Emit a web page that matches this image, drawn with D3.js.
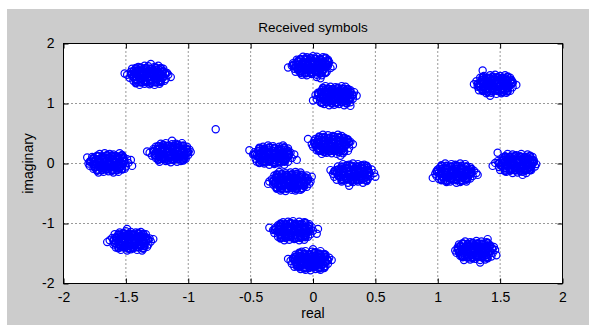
<!DOCTYPE html>
<html>
<head>
<meta charset="utf-8">
<script src="https://cdnjs.cloudflare.com/ajax/libs/d3/7.8.5/d3.min.js"></script>
<style>
  html, body { margin: 0; padding: 0; background: #fff; }
  svg { display: block; font-family: 'Liberation Sans', Arial, sans-serif; }
</style>
</head>
<body>
<div id="display"></div>
<script>
const w = 589;
const h = 325;

// axis ticks
const xTicks = [-2, -1.5, -1, -0.5, 0, 0.5, 1, 1.5, 2];
const xTickLabels = ['-2', '-1.5', '-1', '-0.5', '0', '0.5', '1', '1.5', '2'];
const yTicks = [-2, -1, 0, 1, 2];
const yTickLabels = ['-2', '-1', '0', '1', '2'];

// cluster centres (real, imaginary)
const centers = [
    [-1.32, 1.47], [-0.01, 1.63], [0.18, 1.13], [1.46, 1.32],
    [-1.64, 0.01], [-1.14, 0.18], [-0.32, 0.14], [0.15, 0.32],
    [0.32, -0.16], [-0.18, -0.30], [-0.16, -1.12], [-0.02, -1.62],
    [-1.46, -1.29], [1.14, -0.16], [1.30, -1.45], [1.63, 0.00]
];

// received samples around each centre, offsets in 1/100 (dx, dy, dx, dy, ...)
// outer ring of each cloud
const clusterA = [-7,-16,-3,-14,1,-15,5,-16,9,-14,-12,-9,-8,-11,-3,-10,1,-9,4,-11,9,-10,13,-9,-15,-4,-10,-6,-6,-5,-1,-4,2,-6,7,-5,10,-4,14,-6,-17,1,-12,-1,-7,0,-4,2,1,-1,4,1,9,0,12,-2,16,1,-14,6,-11,4,-6,5,-2,6,3,4,6,6,11,5,15,4,-13,11,-8,9,-4,10,1,11,5,9,8,10,12,11,-8,14,-3,16,0,15,5,14,8,16,-19,3,18,-3,2,19];
const clusterB = [-8,-15,-4,-16,0,-14,4,-15,8,-16,-13,-10,-9,-9,-4,-11,0,-10,4,-9,8,-11,12,-10,-14,-5,-11,-4,-6,-6,-2,-5,3,-4,6,-6,10,-5,15,-4,-16,0,-13,1,-8,-1,-3,0,0,2,5,-1,8,1,13,0,17,-1,-15,4,-10,6,-7,5,-3,4,2,6,6,5,11,4,14,6,-12,10,-9,11,-5,9,0,10,3,11,8,9,13,10,-7,15,-4,14,1,16,4,15,9,14,7,-21,4,-19,-19,-3];
const clusterC = [-9,-14,-5,-16,-1,-15,3,-14,7,-16,-12,-11,-7,-10,-3,-9,1,-11,5,-10,9,-9,12,-11,-15,-6,-10,-5,-7,-4,-2,-6,2,-5,6,-4,11,-6,14,-5,-16,1,-11,0,-8,2,-4,-1,1,0,4,2,9,-1,12,1,17,0,-14,5,-11,6,-6,4,-1,5,2,6,7,4,10,5,15,6,-11,9,-8,10,-3,11,0,9,4,10,9,11,12,9,-8,16,-4,15,0,14,5,16,8,15,-18,-8,12,-17];
const clusterD = [-7,-15,-3,-14,1,-16,5,-15,9,-14,-13,-10,-8,-9,-4,-11,0,-10,5,-9,8,-10,12,-11,-14,-4,-10,-5,-7,-6,-3,-4,2,-5,6,-6,9,-4,14,-5,-17,0,-12,1,-8,-1,-4,0,1,1,4,-2,8,0,13,1,17,-1,-15,5,-10,4,-6,6,-2,5,2,4,7,6,10,5,14,4,-12,11,-9,9,-4,10,0,11,4,9,8,10,12,11,-9,14,-4,15,0,16,4,14,8,15,-10,23,-4,-19];
const clusterE = [-8,-16,-4,-15,0,-14,4,-16,8,-15,-12,-10,-9,-11,-4,-9,0,-10,3,-11,8,-9,13,-10,-15,-5,-11,-6,-6,-4,-2,-5,2,-6,7,-4,10,-5,14,-6,-16,-1,-12,1,-7,0,-4,-2,1,1,5,0,8,-1,12,2,16,0,-14,4,-10,6,-7,5,-2,4,3,6,6,5,11,4,15,6,-13,10,-8,11,-3,9,1,10,5,11,9,9,12,10,-7,15,-3,16,1,15,4,14,9,16,19,-5,-17,9,18,5];
const clusterF = [-9,-15,-4,-14,0,-16,5,-15,8,-14,-12,-9,-8,-10,-4,-11,1,-10,4,-9,9,-11,12,-10,-15,-5,-10,-4,-6,-6,-1,-5,3,-4,6,-6,11,-5,14,-4,-17,0,-12,-1,-8,1,-3,0,0,-2,5,1,9,0,13,-1,16,1,-14,6,-11,5,-6,4,-2,6,2,5,7,4,10,6,15,5,-12,10,-7,9,-4,11,0,10,5,9,8,11,13,10,-8,15,-4,16,1,14,4,15,9,16,-19,2,1,20];
const clusterG = [-7,-14,-3,-16,1,-15,5,-14,9,-16,-13,-11,-8,-10,-3,-9,1,-11,5,-10,8,-9,12,-11,-14,-6,-11,-5,-7,-4,-2,-6,2,-5,6,-4,10,-6,15,-5,-16,1,-13,0,-8,-1,-4,1,1,0,4,-1,8,2,12,0,17,1,-15,5,-10,4,-6,6,-3,5,2,4,6,6,11,5,14,4,-11,11,-8,10,-4,9,1,11,4,10,9,9,12,11,-8,14,-4,16,0,15,5,14,8,16,-19,8,19,-8];
const clusterH = [-8,-16,-4,-14,0,-15,4,-16,9,-15,-12,-10,-9,-9,-4,-10,0,-11,4,-9,8,-10,13,-11,-15,-4,-10,-6,-6,-5,-2,-4,3,-6,6,-5,10,-4,14,-6,-16,0,-12,2,-7,-1,-3,0,0,1,5,-1,9,1,12,0,17,0,-14,6,-11,4,-7,5,-2,6,2,4,7,5,11,6,15,4,-13,9,-8,11,-3,10,1,9,5,11,9,10,12,9,-7,16,-3,15,1,14,5,16,8,14,-19,9,7,-19];
const clusterI = [-9,-14,-4,-16,0,-15,4,-14,8,-16,-13,-11,-8,-10,-4,-9,1,-10,5,-11,8,-9,12,-10,-15,-6,-11,-5,-6,-4,-1,-6,2,-5,7,-4,10,-6,14,-5,-16,-1,-13,1,-8,0,-4,-1,1,2,4,0,9,-2,13,1,17,0,-14,5,-10,6,-7,4,-3,5,2,6,6,4,11,5,15,6,-12,11,-9,10,-4,9,0,10,4,11,9,10,12,9,-8,15,-3,14,0,16,4,15,9,14,-18,5,-3,-21,18,-6];
const clusterJ = [-8,-15,-4,-16,1,-14,4,-15,8,-14,-12,-9,-8,-11,-3,-10,0,-9,5,-10,9,-11,13,-9,-14,-5,-10,-4,-7,-6,-2,-5,3,-4,6,-6,11,-5,15,-4,-17,0,-12,-1,-7,1,-3,-1,0,0,5,2,8,0,12,-1,16,0,-15,4,-11,5,-6,6,-2,4,2,5,7,6,10,4,14,5,-13,10,-9,9,-4,11,0,10,4,9,8,11,13,10,-9,16,-4,14,0,15,4,16,8,15,-18,-4,17,8];
const clusterK = [-7,-16,-3,-15,1,-14,5,-16,9,-15,-12,-10,-9,-11,-4,-9,0,-10,4,-11,9,-9,12,-10,-15,-4,-10,-5,-6,-6,-1,-4,2,-6,7,-5,10,-4,14,-6,-16,1,-13,-1,-8,0,-4,2,1,-1,4,0,9,1,13,-1,16,0,-14,5,-11,6,-7,4,-2,5,3,6,6,4,10,5,15,6,-12,9,-8,10,-3,11,1,10,5,9,8,10,13,11,-8,14,-4,15,0,16,5,15,9,14,20,3,19,-5,-19,5];
const clusterL = [-8,-14,-4,-15,0,-16,4,-14,8,-15,-13,-10,-8,-9,-4,-11,1,-10,4,-9,8,-11,12,-9,-15,-5,-11,-6,-6,-4,-2,-6,3,-5,6,-4,10,-6,14,-5,-16,0,-12,1,-8,-1,-3,0,0,-1,5,1,9,0,12,-2,17,1,-14,4,-10,5,-7,6,-3,4,2,5,6,6,11,4,15,5,-12,10,-8,11,-4,9,0,10,5,11,8,9,12,10,-7,15,-4,16,1,15,4,14,8,16,-18,3,2,19];
const clusterM = [-8,-15,-3,-16,0,-14,5,-15,9,-16,-12,-11,-8,-9,-4,-10,1,-11,5,-10,8,-9,13,-10,-14,-6,-10,-5,-7,-4,-2,-5,2,-6,7,-5,11,-4,14,-6,-17,1,-12,0,-7,-1,-4,1,1,0,4,-1,8,1,12,0,16,-1,-15,5,-11,4,-6,5,-2,6,3,4,6,5,10,6,15,4,-13,11,-8,10,-3,9,0,11,4,10,9,9,12,11,-9,14,-4,16,0,15,4,14,8,15,-3,20,18,3,-19,-2];
const clusterN = [-7,-15,-4,-14,1,-16,4,-15,9,-14,-13,-10,-9,-11,-4,-9,0,-10,5,-11,8,-10,12,-9,-15,-5,-10,-6,-6,-5,-2,-4,2,-5,7,-6,10,-4,14,-5,-16,-1,-13,1,-8,0,-3,-1,1,1,4,0,9,-1,13,2,17,0,-14,6,-11,4,-7,5,-2,6,3,4,6,6,11,5,15,4,-12,10,-8,9,-4,11,1,10,4,9,9,11,12,10,-8,16,-3,15,0,14,4,16,8,15,-18,-8,18,-3];
const clusterO = [-9,-16,-4,-15,0,-14,4,-16,8,-15,-12,-9,-8,-10,-3,-11,1,-9,4,-10,9,-11,13,-10,-15,-4,-11,-5,-6,-6,-1,-4,3,-5,6,-6,11,-5,14,-4,-16,0,-12,-2,-7,1,-4,0,0,-1,5,1,8,0,12,-1,16,1,-14,5,-10,6,-7,4,-2,5,2,6,7,4,10,5,15,6,-13,10,-9,11,-4,10,0,9,5,11,8,10,12,9,-8,15,-4,14,1,16,5,15,9,14,4,-20,17,-8,10,19];
const clusterP = [-8,-14,-3,-16,1,-15,5,-14,8,-16,-13,-11,-9,-10,-4,-9,0,-11,4,-10,9,-9,12,-11,-14,-6,-11,-4,-7,-5,-2,-6,2,-4,6,-5,10,-6,15,-5,-17,1,-12,0,-8,-1,-4,1,1,0,5,-1,9,1,13,0,16,-1,-15,4,-10,5,-6,6,-3,4,2,5,7,6,11,4,14,5,-11,10,-8,9,-3,11,1,10,5,9,9,10,13,11,-7,16,-3,15,0,14,4,16,9,15,-15,18,-19,-4,5,-19];

// denser core of each cloud
const innerA = [-10,-13,-6,-12,-2,-11,2,-13,6,-12,10,-11,-10,-8,-6,-7,-2,-9,2,-8,6,-7,10,-9,-12,-3,-8,-2,-4,-4,0,-3,4,-2,8,-4,12,-3,-14,2,-10,3,-6,1,-2,2,2,3,6,1,10,2,14,3,-12,7,-8,8,-4,6,0,7,4,8,8,6,12,7,-10,12,-6,13,-2,12,2,11,6,13,10,12];
const innerB = [-9,-12,-5,-13,-1,-12,3,-11,7,-13,11,-12,-11,-7,-7,-8,-3,-8,1,-7,5,-9,9,-8,-13,-2,-9,-3,-5,-3,-1,-2,3,-4,7,-3,11,-2,-15,1,-11,2,-7,3,-3,1,1,2,5,3,9,1,13,2,-11,8,-7,7,-3,6,1,8,5,7,9,6,13,8,-9,11,-5,12,-1,13,3,12,7,11,11,13];
const innerC = [-11,-12,-7,-11,-3,-13,1,-12,5,-11,9,-13,-9,-8,-5,-9,-1,-7,3,-8,7,-9,11,-7,-12,-4,-8,-3,-4,-2,0,-4,4,-3,8,-2,12,-4,-14,3,-10,1,-6,2,-2,3,2,1,6,2,10,3,14,1,-12,6,-8,7,-4,8,0,6,4,7,8,8,12,6,-10,13,-6,12,-2,11,2,13,6,12,10,11];
const innerD = [-10,-11,-6,-13,-2,-12,2,-11,6,-13,10,-12,-10,-9,-6,-8,-2,-7,2,-9,6,-8,10,-7,-13,-3,-9,-4,-5,-2,-1,-3,3,-4,7,-2,11,-3,-14,1,-10,2,-6,3,-2,1,2,2,6,3,10,1,14,2,-11,7,-7,6,-3,8,1,7,5,6,9,8,13,7,-10,12,-6,11,-2,13,2,12,6,11,10,13];
const innerE = [-9,-13,-5,-12,-1,-11,3,-13,7,-12,11,-11,-11,-8,-7,-7,-3,-9,1,-8,5,-7,9,-9,-12,-2,-8,-4,-4,-3,0,-2,4,-4,8,-3,12,-2,-15,2,-11,3,-7,1,-3,2,1,3,5,1,9,2,13,3,-12,8,-8,6,-4,7,0,8,4,6,8,7,12,8,-9,12,-5,11,-1,13,3,12,7,11,11,13];
const innerF = [-10,-12,-6,-11,-2,-13,2,-12,6,-11,10,-13,-9,-7,-5,-8,-1,-9,3,-7,7,-8,11,-9,-13,-4,-9,-2,-5,-3,-1,-4,3,-2,7,-3,11,-4,-14,3,-10,1,-6,2,-2,3,2,1,6,2,10,3,14,1,-11,6,-7,8,-3,7,1,6,5,8,9,7,13,6,-10,11,-6,13,-2,12,2,11,6,13,10,12];
const innerG = [-11,-13,-7,-12,-3,-11,1,-13,5,-12,9,-11,-10,-9,-6,-7,-2,-8,2,-9,6,-7,10,-8,-12,-3,-8,-2,-4,-4,0,-3,4,-2,8,-4,12,-3,-15,1,-11,2,-7,3,-3,1,1,2,5,3,9,1,13,2,-12,7,-8,8,-4,6,0,7,4,8,8,6,12,7,-11,12,-7,11,-3,13,1,12,5,11,9,13];
const innerH = [-10,-11,-6,-13,-2,-12,2,-11,6,-13,10,-12,-11,-8,-7,-9,-3,-7,1,-8,5,-9,9,-7,-13,-2,-9,-3,-5,-4,-1,-2,3,-3,7,-4,11,-2,-14,2,-10,3,-6,1,-2,2,2,3,6,1,10,2,14,3,-11,8,-7,7,-3,6,1,8,5,7,9,6,13,8,-10,13,-6,12,-2,11,2,13,6,12,10,11];
const innerI = [-9,-12,-5,-11,-1,-13,3,-12,7,-11,11,-13,-10,-7,-6,-9,-2,-8,2,-7,6,-9,10,-8,-12,-4,-8,-3,-4,-2,0,-4,4,-3,8,-2,12,-4,-15,3,-11,1,-7,2,-3,3,1,1,5,2,9,3,13,1,-12,6,-8,7,-4,8,0,6,4,7,8,8,12,6,-9,11,-5,13,-1,12,3,11,7,13,11,12];
const innerJ = [-11,-12,-7,-13,-3,-12,1,-11,5,-13,9,-12,-9,-9,-5,-7,-1,-8,3,-9,7,-7,11,-8,-13,-3,-9,-4,-5,-2,-1,-3,3,-4,7,-2,11,-3,-14,1,-10,2,-6,3,-2,1,2,2,6,3,10,1,14,2,-12,7,-8,6,-4,8,0,7,4,6,8,8,12,7,-11,12,-7,13,-3,11,1,12,5,13,9,11];
const innerK = [-10,-13,-6,-12,-2,-11,2,-13,6,-12,10,-11,-10,-8,-6,-9,-2,-7,2,-8,6,-9,10,-7,-12,-2,-8,-4,-4,-3,0,-2,4,-4,8,-3,12,-2,-15,2,-11,3,-7,1,-3,2,1,3,5,1,9,2,13,3,-11,8,-7,6,-3,7,1,8,5,6,9,7,13,8,-10,12,-6,11,-2,13,2,12,6,11,10,13];
const innerL = [-9,-11,-5,-13,-1,-12,3,-11,7,-13,11,-12,-11,-9,-7,-8,-3,-7,1,-9,5,-8,9,-7,-12,-3,-8,-2,-4,-4,0,-3,4,-2,8,-4,12,-3,-14,3,-10,1,-6,2,-2,3,2,1,6,2,10,3,14,1,-12,7,-8,8,-4,6,0,7,4,8,8,6,12,7,-9,13,-5,12,-1,11,3,13,7,12,11,11];
const innerM = [-10,-12,-6,-11,-2,-13,2,-12,6,-11,10,-13,-9,-8,-5,-7,-1,-9,3,-8,7,-7,11,-9,-13,-4,-9,-3,-5,-2,-1,-4,3,-3,7,-2,11,-4,-14,1,-10,2,-6,3,-2,1,2,2,6,3,10,1,14,2,-12,6,-8,7,-4,8,0,6,4,7,8,8,12,6,-10,11,-6,13,-2,12,2,11,6,13,10,12];
const innerN = [-11,-12,-7,-13,-3,-11,1,-12,5,-13,9,-11,-10,-7,-6,-8,-2,-9,2,-7,6,-8,10,-9,-12,-2,-8,-3,-4,-4,0,-2,4,-3,8,-4,12,-2,-15,3,-11,1,-7,2,-3,3,1,1,5,2,9,3,13,1,-11,7,-7,8,-3,6,1,7,5,8,9,6,13,7,-11,13,-7,12,-3,11,1,13,5,12,9,11];
const innerO = [-10,-11,-6,-12,-2,-13,2,-11,6,-12,10,-13,-11,-9,-7,-7,-3,-8,1,-9,5,-7,9,-8,-13,-3,-9,-2,-5,-4,-1,-3,3,-2,7,-4,11,-3,-14,2,-10,3,-6,1,-2,2,2,3,6,1,10,2,14,3,-12,8,-8,6,-4,7,0,8,4,6,8,7,12,8,-10,12,-6,11,-2,13,2,12,6,11,10,13];
const innerP = [-9,-13,-5,-12,-1,-11,3,-13,7,-12,11,-11,-9,-8,-5,-9,-1,-7,3,-8,7,-9,11,-7,-12,-4,-8,-2,-4,-3,0,-4,4,-2,8,-3,12,-4,-14,1,-10,2,-6,3,-2,1,2,2,6,3,10,1,14,2,-11,6,-7,7,-3,8,1,6,5,7,9,8,13,6,-9,12,-5,11,-1,13,3,12,7,11,11,13];

const strayPoints = [[-0.78, 0.57]];

const clusters = [
    [clusterA, innerA], [clusterB, innerB], [clusterC, innerC], [clusterD, innerD],
    [clusterE, innerE], [clusterF, innerF], [clusterG, innerG], [clusterH, innerH],
    [clusterI, innerI], [clusterJ, innerJ], [clusterK, innerK], [clusterL, innerL],
    [clusterM, innerM], [clusterN, innerN], [clusterO, innerO], [clusterP, innerP]
];

// flatten into [re, im, isCore]
const samples = [];
clusters.forEach((sets, i) => {
    const c = centers[i];
    sets.forEach((offs, s) => {
        for (let k = 0; k < offs.length; k += 2) {
            samples.push([c[0] + offs[k] / 100, c[1] + offs[k + 1] / 100, s === 1]);
        }
    });
});
strayPoints.forEach((p) => samples.push([p[0], p[1], false]));

const pLeft = 63.5, pRight = 562.5, pTop = 43.5, pBottom = 283.5;

const svg = d3.select('#display').append('svg')
    .attr('width', w)
    .attr('height', h);

// figure background
svg.append('rect')
    .attr('x', 7).attr('y', 9)
    .attr('width', w - 7).attr('height', h - 9)
    .style('fill', '#cccccc');

const xScale = d3.scaleLinear().domain([-2, 2]).range([pLeft, pRight]);
const yScale = d3.scaleLinear().domain([-2, 2]).range([pBottom, pTop]);

svg.append('rect')
    .attr('x', pLeft).attr('y', pTop)
    .attr('width', pRight - pLeft).attr('height', pBottom - pTop)
    .style('fill', '#fff');

// dotted grid
const grid = svg.append('g').attr('class', 'grid')
    .style('stroke', '#333')
    .style('stroke-width', 1)
    .style('stroke-dasharray', '1,3');
grid.selectAll('.gx').data(xTicks.slice(1, -1)).enter().append('line')
    .attr('x1', (d) => xScale(d)).attr('x2', (d) => xScale(d))
    .attr('y1', pTop).attr('y2', pBottom);
grid.selectAll('.gy').data(yTicks.slice(1, -1)).enter().append('line')
    .attr('x1', pLeft).attr('x2', pRight)
    .attr('y1', (d) => yScale(d)).attr('y2', (d) => yScale(d));

// samples
svg.append('g').attr('class', 'samples')
    .selectAll('circle')
    .data(samples)
    .enter()
    .append('circle')
    .attr('cx', (d) => xScale(d[0]))
    .attr('cy', (d) => yScale(d[1]))
    .attr('r', (d) => d[2] ? 3.3 : 3.6)
    .style('fill', 'none')
    .style('stroke', '#0000ff')
    .style('stroke-width', (d) => d[2] ? 2 : 1.2);

// axes, ticks pointing inwards on all four sides
const fmtX = (d) => xTickLabels[xTicks.indexOf(d)];
const fmtY = (d) => yTickLabels[yTicks.indexOf(d)];
const styleAxis = (g) => {
    g.select('.domain').remove();
    g.selectAll('line').style('stroke', '#000');
    g.selectAll('text').style('font-size', '14px').style('fill', '#000');
};

svg.append('g')
    .attr('transform', `translate(0,${pBottom})`)
    .call(d3.axisBottom(xScale).tickValues(xTicks).tickFormat(fmtX).tickSizeInner(-5).tickPadding(9))
    .call(styleAxis);
svg.append('g')
    .attr('transform', `translate(0,${pTop})`)
    .call(d3.axisTop(xScale).tickValues(xTicks).tickFormat('').tickSizeInner(-5))
    .call(styleAxis);
svg.append('g')
    .attr('transform', `translate(${pLeft},0)`)
    .call(d3.axisLeft(yScale).tickValues(yTicks).tickFormat(fmtY).tickSizeInner(-5).tickPadding(9))
    .call(styleAxis);
svg.append('g')
    .attr('transform', `translate(${pRight},0)`)
    .call(d3.axisRight(yScale).tickValues(yTicks).tickFormat('').tickSizeInner(-5))
    .call(styleAxis);

svg.append('rect')
    .attr('x', pLeft).attr('y', pTop)
    .attr('width', pRight - pLeft).attr('height', pBottom - pTop)
    .style('fill', 'none')
    .style('stroke', '#000')
    .style('stroke-width', 1);

// labels
svg.append('text')
    .attr('x', (pLeft + pRight) / 2)
    .attr('y', 32)
    .attr('text-anchor', 'middle')
    .style('font-size', '13.5px')
    .text('Received symbols');

svg.append('text')
    .attr('x', (pLeft + pRight) / 2)
    .attr('y', 318)
    .attr('text-anchor', 'middle')
    .style('font-size', '14px')
    .text('real');

svg.append('text')
    .attr('transform', `translate(33,${(pTop + pBottom) / 2}) rotate(-90)`)
    .attr('text-anchor', 'middle')
    .style('font-size', '14px')
    .text('imaginary');
</script>
</body>
</html>
